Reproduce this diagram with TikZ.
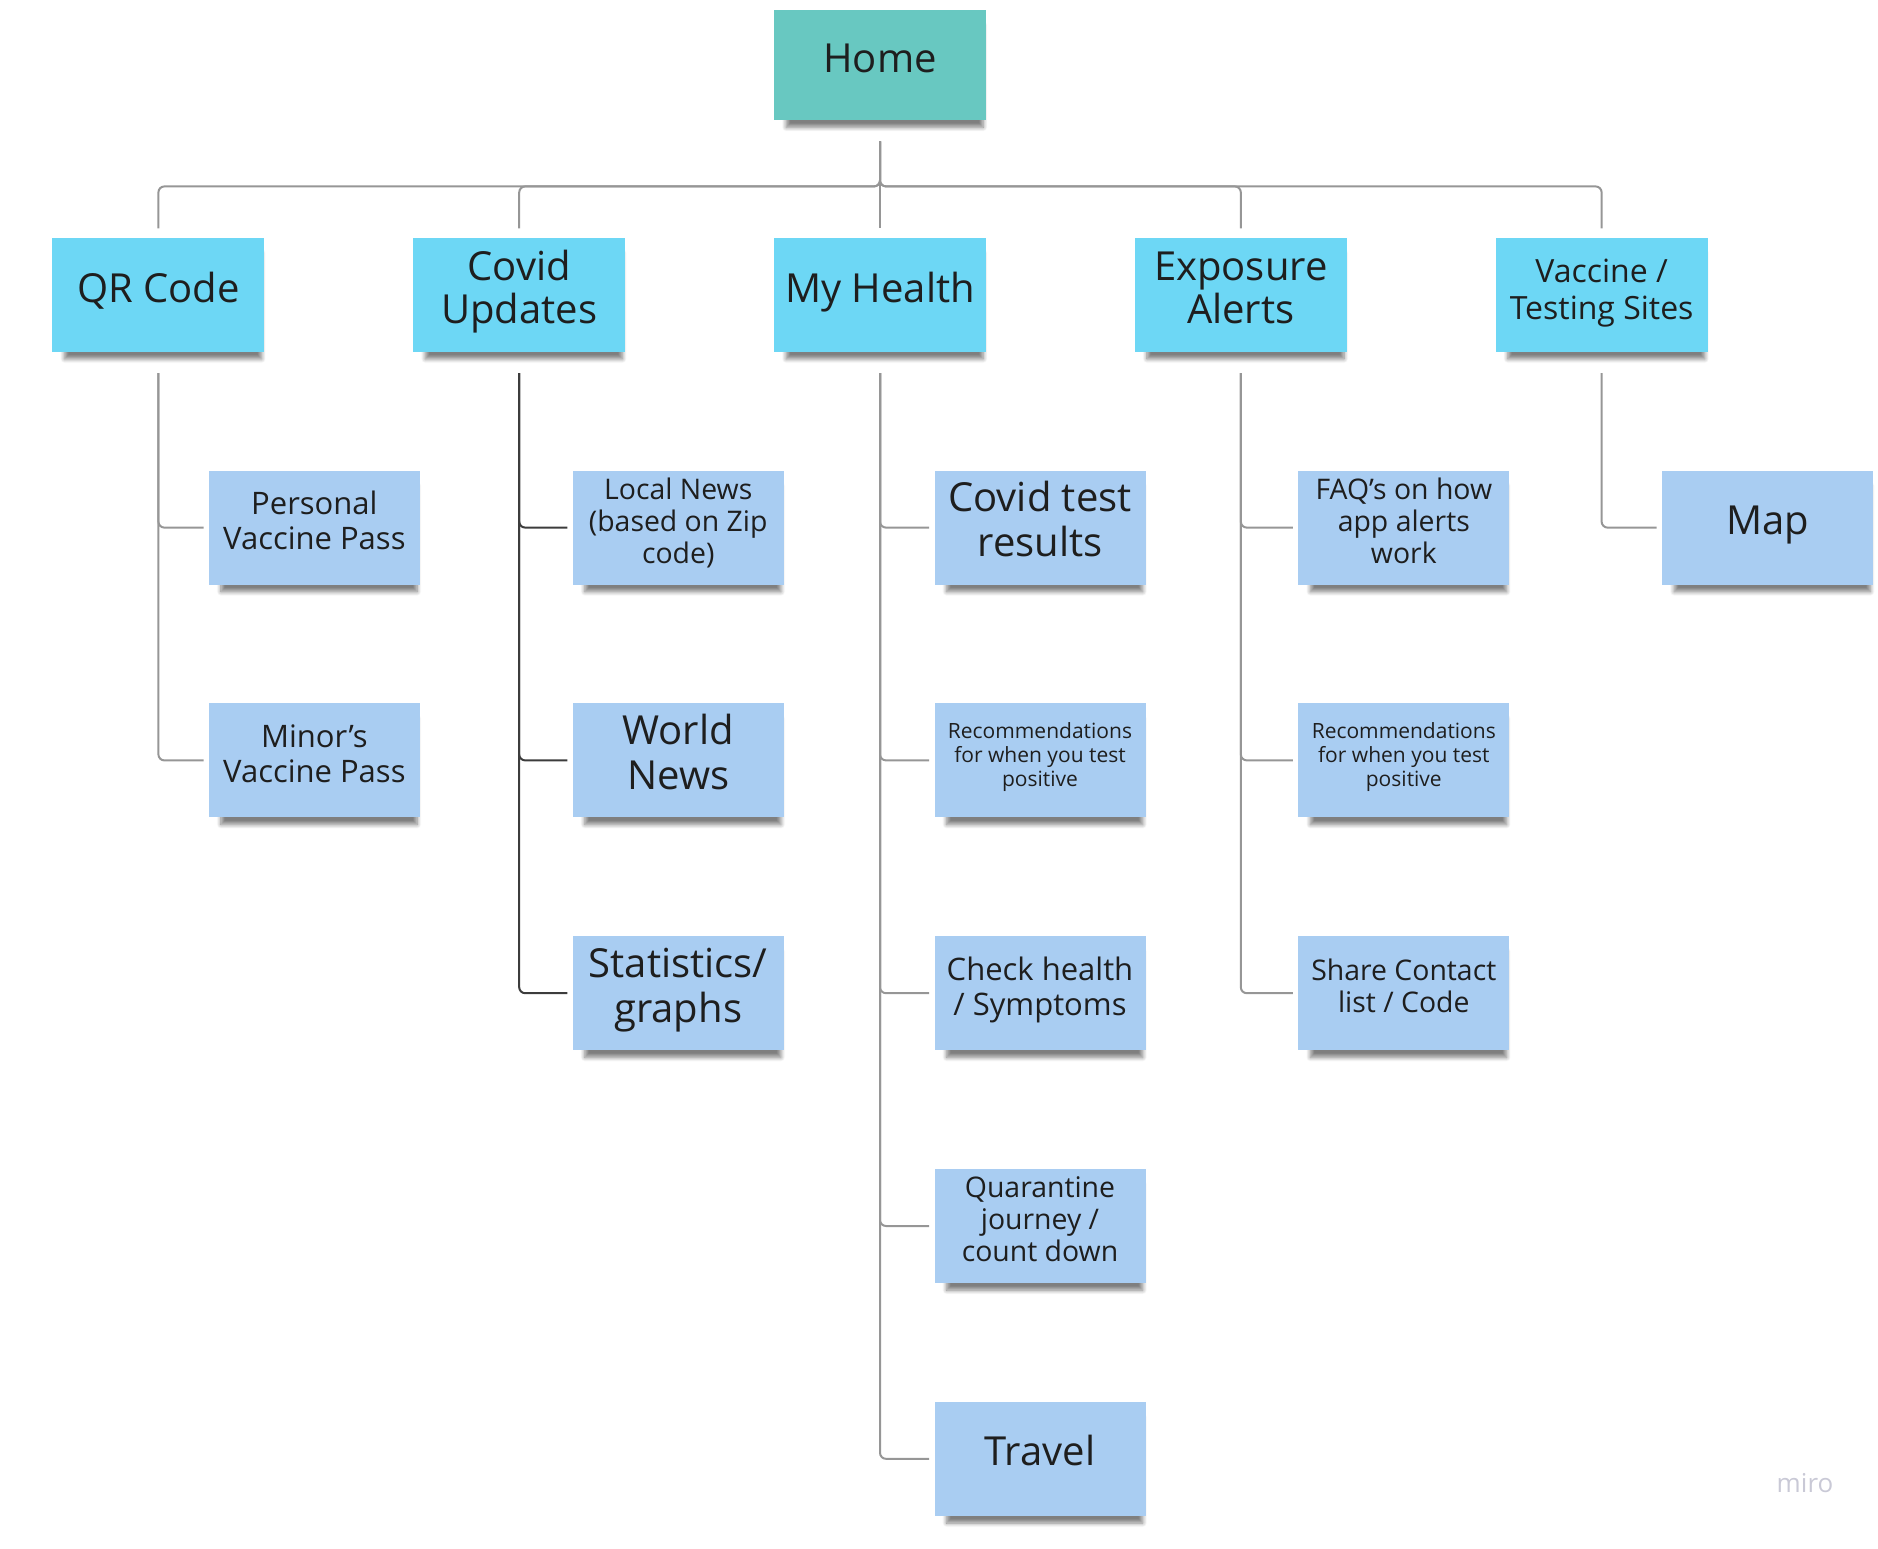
\documentclass[tikz,border=0pt]{standalone}
\usepackage{fontspec}
\setmainfont{Open Sans}
\usepackage{tikz}
\usetikzlibrary{positioning,shadows.blur}
\definecolor{HomeTeal}{HTML}{68C8C1}
\definecolor{SectionCyan}{HTML}{6DD7F5}
\definecolor{PageBlue}{HTML}{A9CDF2}
\definecolor{LinkGray}{HTML}{969696}
\definecolor{LinkDark}{HTML}{3C3C3C}
\definecolor{InkBlack}{HTML}{1E1E1E}
\definecolor{MiroGray}{HTML}{C9C9D6}
\newcommand{\fBig}{\fontsize{20}{21.5}\selectfont}
\newcommand{\fLeaf}{\fontsize{20}{22.5}\selectfont}
\newcommand{\fSect}{\fontsize{16}{18.5}\selectfont}
\newcommand{\fMid}{\fontsize{15.5}{17.5}\selectfont}
\newcommand{\fSmall}{\fontsize{14.2}{16}\selectfont}
\newcommand{\fTiny}{\fontsize{10.5}{12}\selectfont}

\begin{document}
\begin{tikzpicture}[
    x=1pt, y=1pt,
    note/.style={rectangle, align=center, text=InkBlack, inner sep=2pt,
        blur shadow={shadow xshift=2.5pt, shadow yshift=-6pt, shadow scale=0.93,
            shadow blur steps=8, shadow blur radius=2.2pt, shadow opacity=50}},
    % text height = first line + (lines-1) x leading
    big/.style={font=\fBig, text height=#1, text depth=7.5pt}, big/.default=15pt,
    leaf/.style={font=\fLeaf, text height=#1, text depth=8.5pt}, leaf/.default=15pt,
    sect/.style={font=\fSect, text height=#1, text depth=6pt},
    mid/.style={font=\fMid, text height=#1, text depth=7pt},
    small/.style={font=\fSmall, text height=#1, text depth=7pt},
    tiny/.style={font=\fTiny, text height=#1, text depth=6.2pt},
    home/.style={note, big, fill=HomeTeal, minimum width=106pt, minimum height=55pt},
    section/.style={note, fill=SectionCyan, minimum width=106pt, minimum height=57pt},
    page/.style={note, fill=PageBlue, minimum width=105.5pt, minimum height=57pt},
    link/.style={draw=LinkGray, line width=1pt, rounded corners=3pt},
    darklink/.style={link, draw=LinkDark}
]
\useasboundingbox (0,0) rectangle (939,-774);

% top levels
\node[home] (home) at (440,-32.5) {Home};
\node[section, big, below=58.5pt of home] (health) {My Health};
\node[section, big=36.5pt, left=74pt of health] (covid) {Covid\\Updates};
\node[section, big, left=74pt of covid] (qr) {QR Code};
\node[section, big=36.5pt, right=74pt of health] (alerts) {Exposure\\Alerts};
\node[section, sect=30.5pt, right=74pt of alerts] (sites) {Vaccine /\\Testing Sites};

% QR Code pages
\node[page, mid=29.1pt, below=59pt of qr, xshift=78pt] (personal) {Personal\\Vaccine Pass};
\node[page, mid=29.1pt, below=59pt of personal] (minor) {Minor's\\Vaccine Pass};

% Covid Updates pages
\node[page, small=42.6pt, below=59pt of covid, xshift=79.5pt] (local) {Local News\\(based on Zip\\code)};
\node[page, leaf=37.5pt, below=59pt of local] (world) {World\\News};
\node[page, leaf=37.5pt, below=59pt of world] (stats) {Statistics/\\graphs};

% My Health pages
\node[page, leaf=37.5pt, below=59pt of health, xshift=80pt] (results) {Covid test\\results};
\node[page, tiny=32pt, below=59pt of results] (positive) {Recommendations\\for when you test\\positive};
\node[page, mid=29.1pt, below=59pt of positive] (symptoms) {Check health\\/ Symptoms};
\node[page, small=42.6pt, below=59pt of symptoms] (quarantine) {Quarantine\\journey /\\count down};
\node[page, leaf, below=59pt of quarantine] (travel) {Travel};

% Exposure Alerts pages
\node[page, small=42.6pt, below=59pt of alerts, xshift=81.5pt] (faq) {FAQ's on how\\app alerts\\work};
\node[page, tiny=32pt, below=59pt of faq] (alertpos) {Recommendations\\for when you test\\positive};
\node[page, small=26.6pt, below=59pt of alertpos] (share) {Share Contact\\list / Code};

% Vaccine / Testing Sites page
\node[page, leaf, below=59pt of sites, xshift=83pt] (map) {Map};

\node[text=MiroGray, font=\fontsize{13}{13}\selectfont] (miro) at (902.5,-741.5) {miro};

% connectors
\draw[link, shorten <=10.5pt, shorten >=4.5pt] (home.south) -- (health.north);
\foreach \sec in {qr,covid,alerts,sites}
    \draw[link, shorten <=10.5pt, shorten >=4.5pt] (home.south) -- ++(0,-33) -| (\sec.north);
\foreach \sec/\leaf in {qr/personal, qr/minor, health/results, health/positive, health/symptoms,
        health/quarantine, health/travel, alerts/faq, alerts/alertpos, alerts/share, sites/map}
    \draw[link, shorten <=10.5pt, shorten >=2.5pt] (\sec.south) |- (\leaf.west);
\foreach \leaf in {local,world,stats}
    \draw[darklink, shorten <=10.5pt, shorten >=2.5pt] (covid.south) |- (\leaf.west);
\end{tikzpicture}
\end{document}
